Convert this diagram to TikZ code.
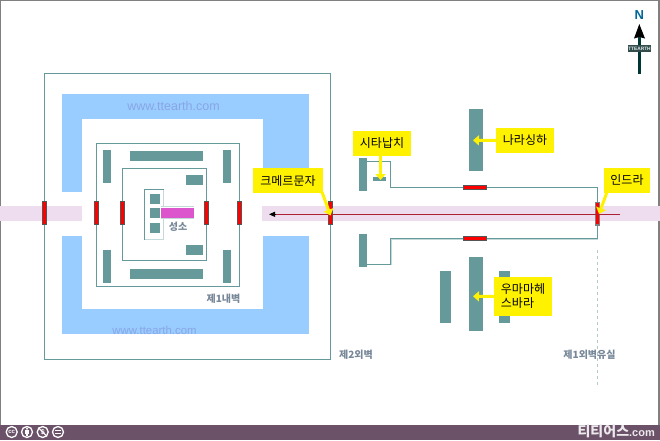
\documentclass[tikz,border=0pt]{standalone}
\usepackage{fontspec}
\setmainfont{Noto Sans CJK KR}
\newfontfamily\latinfont{Liberation Sans}
\usetikzlibrary{arrows.meta}
\definecolor{wallcol}{HTML}{669999}
\definecolor{palecol}{HTML}{C4DADA}
\definecolor{bluecol}{HTML}{99CCFF}
\definecolor{bandcol}{HTML}{EEDDEE}
\definecolor{barcol}{HTML}{6B5269}
\definecolor{textcol}{HTML}{778899}
\definecolor{gatecol}{HTML}{555555}
\definecolor{markcol}{HTML}{88A6E6}
\begin{document}
\begin{tikzpicture}[x=1pt,y=-1pt,
  wallline/.style={draw=wallcol, line width=1pt},
  paleline/.style={draw=palecol, line width=1pt},
  block/.style={fill=wallcol, inner sep=0pt, outer sep=0pt},
  gate/.style={draw=gatecol, fill=red, line width=1.3pt, inner sep=0pt, minimum width=3.7pt, minimum height=22.5pt},
  hgate/.style={draw=gatecol, fill=red, line width=1.3pt, inner sep=0pt, minimum width=22.5pt, minimum height=3.7pt},
  namebox/.style={fill=yellow, inner sep=0pt, font=\fontsize{12}{14}\selectfont, text=black},
  pointer/.style={draw=yellow, line width=3pt, -{Triangle[length=6pt,width=10pt]}},
  walllabel/.style={text=textcol, inner sep=0pt, font=\bfseries\fontsize{10}{12}\selectfont},
  ccicon/.style={circle, draw=white, line width=1.3pt, fill=barcol, minimum size=11pt, inner sep=0pt, text=white},
]
\useasboundingbox (0,0) rectangle (660,440);
\fill[white] (0,0) rectangle (660,440);
% frame and bottom bar
\fill[gray] (0,0) rectangle (660,1);
\fill[gray] (0,0) rectangle (1.2,425);
\fill[gray] (658,0) rectangle (660,425);
\fill[barcol] (0,425) rectangle (660,440);
% moat
\fill[bluecol] (62,94) rectangle (309,192);
\fill[bluecol] (62,236) rectangle (309,334);
\fill[white] (82,119) rectangle (263,309);
\fill[bandcol] (0,205.7) rectangle (82,221);
\fill[bandcol] (262,205.7) rectangle (660,221);
\node[text=markcol, inner sep=0pt, font=\latinfont\fontsize{12.5}{14}\selectfont] (markup) at (173.5,106.5) {www.ttearth.com};
\node[text=markcol, inner sep=0pt, font=\latinfont\fontsize{11.4}{13}\selectfont] (marklow) at (154.5,330.5) {www.ttearth.com};
% walls
\draw[wallline] (44.5,73.5) rectangle (330.5,359.5);
\draw[wallline] (96.5,143.5) rectangle (239.5,286.5);
\draw[wallline] (122.5,168.5) rectangle (206.5,260.5);
% sanctuary
\draw[paleline] (163.5,189.5) -- (163.5,239.5) -- (144.5,239.5);
\draw[paleline] (161,206.5) -- (194,206.5);
\draw[paleline] (161,218.8) -- (194,218.8);
\draw[wallline] (163.5,189.5) -- (144.5,189.5) -- (144.5,239.5);
\node[block, minimum width=10pt, minimum height=10pt] (sanca) at (155,199) {};
\node[block, minimum width=10pt, minimum height=10pt] (sancb) at (155,213) {};
\node[block, minimum width=10pt, minimum height=10pt] (sancc) at (155,228) {};
\node[fill=white, inner sep=0pt, outer sep=0pt, minimum width=3pt, minimum height=11pt] (sancgap) at (163.5,212.8) {};
\node[fill={rgb,255:red,221;green,85;blue,204}, inner sep=0pt, outer sep=0pt, minimum width=33pt, minimum height=10.5pt] (shrine) at (177.5,212.8) {};
\node[walllabel] (sanclabel) at (178,227) {성소};
% inner buildings
\node[block, minimum width=8pt, minimum height=33pt] (blocka) at (107,166.5) {};
\node[block, minimum width=8pt, minimum height=33pt] (blockb) at (227,166.5) {};
\node[block, minimum width=8pt, minimum height=33pt] (blockc) at (107,266.5) {};
\node[block, minimum width=8pt, minimum height=33pt] (blockd) at (227,266.5) {};
\node[block, minimum width=73pt, minimum height=10pt] (blocke) at (166.5,156) {};
\node[block, minimum width=73pt, minimum height=10pt] (blockf) at (166.5,274) {};
\node[block, minimum width=17pt, minimum height=10pt] (blockg) at (194.5,180) {};
\node[block, minimum width=17pt, minimum height=10pt] (blockh) at (194.5,250) {};
% east side
\node[block, minimum width=14pt, minimum height=62pt] (narasingha) at (476,140) {};
\node[block, minimum width=8pt, minimum height=33pt] (sitaup) at (363,174.5) {};
\node[block, minimum width=8pt, minimum height=33pt] (sitalow) at (363,250.5) {};
\node[block, minimum width=13pt, minimum height=4pt] (sita) at (379.5,179) {};
\node[block, minimum width=11pt, minimum height=52pt] (umaleft) at (445.5,297) {};
\node[block, minimum width=14pt, minimum height=74pt] (umamid) at (476,294) {};
\node[block, minimum width=11pt, minimum height=52pt] (umaright) at (504.5,297) {};
% gates
\draw[paleline] (391.5,264.5) -- (391.5,239.5) -- (597.5,239.5);
\foreach \gx/\gname in {44.5/gatea,96.5/gateb,122.5/gatec,206.5/gated,239.5/gatee,330.5/gatef}
  \node[gate] (\gname) at (\gx,213) {};
\node[gate, draw=gray] (gateg) at (597.5,213.7) {};
\node[hgate] (gateh) at (475,187.5) {};
\node[hgate] (gatei) at (475,238.5) {};
\coordinate (wallne) at (390.5,187.5);
\coordinate (wallse) at (390.5,238.5);
\coordinate (sitane) at (367,161.5);
\coordinate (sitase) at (367,264.5);
\draw[wallline] (sitane) -| (wallne) -- (gateh.west);
\draw[wallline] (gateh.east) -- (gateg.north |- gateh) -- (gateg.north);
\draw[wallline] (sitase) -| (wallse) -- (gatei.west);
\draw[wallline] (gatei.east) -- (gateg.south |- gatei) -- (gateg.south);
\draw[draw=palecol!80!gray, line width=1pt, dashed] (597.5,250) -- (597.5,387);
% causeway
\coordinate (roadstart) at (620,214.3);
\coordinate (roadend) at (269,214.3);
\draw[draw={rgb,255:red,170;green,34;blue,51}, line width=1pt] (roadstart) -- (276,214.3);
\draw[-{Triangle[length=6pt,width=5pt]}, black, line width=1pt] (276,214.3) -- (roadend);
% wall names
\node[walllabel] (wallone) at (223.5,299) {제1내벽};
\node[walllabel] (walltwo) at (356,354.5) {제2외벽};
\node[walllabel] (wallout) at (589.5,354.5) {제1외벽유실};
% name boxes
\coordinate (tipkhmer) at (330.5,215.5);
\coordinate (tipsita) at (380.5,180);
\coordinate (tipnara) at (473,140.3);
\coordinate (tipindra) at (599,214);
\coordinate (tipuma) at (473,296.3);
\node[namebox, minimum width=70pt, minimum height=25pt] (khmer) at (288,180.5) {크메르문자};
\node[namebox, minimum width=58pt, minimum height=25pt] (sitabox) at (382,143.5) {시타납치};
\node[namebox, minimum width=58pt, minimum height=25pt] (nara) at (525,140.5) {나라싱하};
\node[namebox, minimum width=46pt, minimum height=25pt] (indra) at (627,180.5) {인드라};
\node[namebox, minimum width=58pt, minimum height=39pt, align=left, font=\fontsize{12}{14}\selectfont] (uma) at (523,296.5) {우마마헤\\스바라};
\draw[pointer] (322,192) -- (tipkhmer);
\draw[pointer] (sitabox.south -| tipsita) -- (tipsita);
\draw[pointer] (nara.west) -- (tipnara);
\draw[pointer] (607,192) -- (tipindra);
\draw[pointer] (uma.west) -- (tipuma);
% north arrow
\node[text={rgb,255:red,0;green,102;blue,153}, inner sep=0pt, font=\latinfont\bfseries\fontsize{13}{15}\selectfont] (north) at (639.3,15) {N};
\fill[black] (639.3,24) -- (645,38.5) -- (639.3,37) -- (634,38.5) -- cycle;
\fill[black!30!teal!60!black] (638,37) rectangle (641,73.7);
\node[fill=wallcol!50!black, text=white!80!wallcol, inner sep=0pt, minimum width=23pt, minimum height=7pt, font=\latinfont\bfseries\fontsize{4.8}{5}\selectfont] (tag) at (639.5,48.5) {TTEARTH};
% licence icons
\node[ccicon, font=\latinfont\bfseries\fontsize{6}{6}\selectfont] (iconcc) at (11.7,432) {cc};
\node[ccicon] (iconby) at (27,432) {};
\fill[white] (27,428.7) circle (1.2pt);
\fill[white] (25.3,430.4) rectangle (28.7,433.6);
\fill[white] (26,433.6) rectangle (28,436);
\node[ccicon, font=\latinfont\bfseries\fontsize{7}{7}\selectfont] (iconnc) at (42.7,432) {\$};
\draw[white, line width=1pt] (iconnc.north west) -- (iconnc.south east);
\node[ccicon] (iconnd) at (58,432) {};
\fill[white] (55,429.8) rectangle (61,431.2);
\fill[white] (55,432.8) rectangle (61,434.2);
% site name
\node[text=white!88!barcol, inner sep=0pt, anchor=east, font=\bfseries\fontsize{14}{16}\selectfont] (site) at (655,431.5) {티티어스{\latinfont\fontsize{11}{12}\selectfont.com}};
\end{tikzpicture}
\end{document}
